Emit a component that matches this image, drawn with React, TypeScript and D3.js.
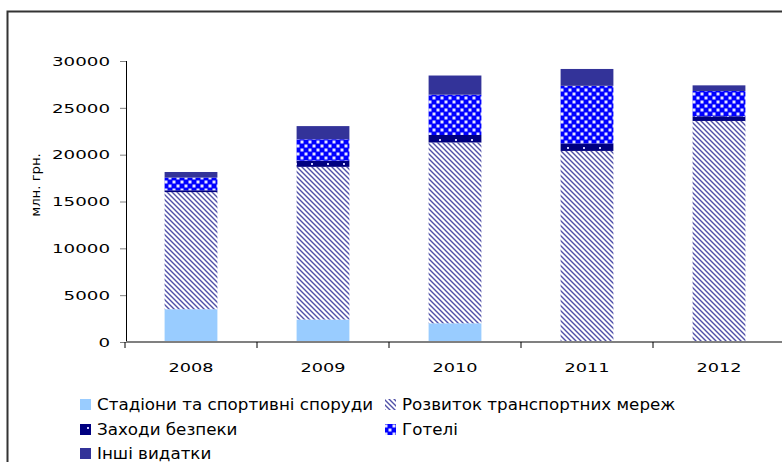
import React, { useLayoutEffect, useRef, useState } from "react";
import * as d3 from "d3";

const years = ["2008", "2009", "2010", "2011", "2012"];
const seriesNames = [
  "Стадіони та спортивні споруди",
  "Розвиток транспортних мереж",
  "Заходи безпеки",
  "Готелі",
  "Інші видатки",
];
const stadiums = [3500, 2400, 2000, 0, 0];
const transport = [12500, 16300, 19300, 20400, 23600];
const security = [200, 650, 800, 800, 500];
const hotels = [1350, 2300, 4300, 6150, 2700];
const other = [600, 1400, 2050, 1800, 600];
const yTicks = [0, 5000, 10000, 15000, 20000, 25000, 30000];

const W = 782;
const H = 462;
const FONT = "'DejaVu Sans', Verdana, sans-serif";

export default function App() {
  const tickRef = useRef<SVGTextElement>(null);
  const yearRef = useRef<SVGTextElement>(null);
  const legRef = useRef<SVGTextElement>(null);
  const [sc, setSc] = useState({ tick: 1.4, year: 1.3, leg: 1.1 });

  useLayoutEffect(() => {
    const t = tickRef.current ? tickRef.current.getComputedTextLength() : 0;
    const yr = yearRef.current ? yearRef.current.getComputedTextLength() : 0;
    const lg = legRef.current ? legRef.current.getComputedTextLength() : 0;
    if (t && yr && lg) {
      setSc({ tick: 58 / t, year: 45 / yr, leg: 276 / lg });
    }
  }, []);

  const x = d3.scaleBand<string>().domain(years).range([125, 785]).paddingInner(0.6).paddingOuter(0.3);
  const y = d3.scaleLinear().domain([0, 30000]).range([342, 61]);
  const rows = years.map((yr, i) => ({
    year: yr,
    s0: stadiums[i],
    s1: transport[i],
    s2: security[i],
    s3: hotels[i],
    s4: other[i],
  }));
  const keys = ["s0", "s1", "s2", "s3", "s4"];
  const stack = d3.stack<any>().keys(keys)(rows);
  const fills = ["#99CCFF", "url(#pTrans)", "url(#pSec)", "url(#pHot)", "#333399"];
  const step = x.step();
  const bw = x.bandwidth();

  const legend = [
    { i: 0, x: 80, y: 405 },
    { i: 1, x: 385, y: 405 },
    { i: 2, x: 80, y: 430 },
    { i: 3, x: 385, y: 430 },
    { i: 4, x: 80, y: 454 },
  ];

  return (
    <svg width={W} height={H} style={{ position: "absolute", left: 0, top: 0 }}>
      <defs>
        <pattern id="pTrans" patternUnits="userSpaceOnUse" width="5" height="5">
          <rect width="5" height="5" fill="#ffffff" />
          <path d="M0,0 L5,5 M-2.5,2.5 L2.5,7.5 M2.5,-2.5 L7.5,2.5" stroke="#5050a8" strokeWidth="1.4" />
        </pattern>
        <pattern id="pSec" patternUnits="userSpaceOnUse" width="16" height="8">
          <rect width="16" height="8" fill="#000080" />
          <rect x="7" y="3" width="2" height="2" fill="#ccccff" />
        </pattern>
        <pattern id="pHot" patternUnits="userSpaceOnUse" width="8" height="8">
          <rect width="8" height="8" fill="#0000FF" />
          <rect x="0.5" y="0.5" width="3" height="3" fill="#ffffff" opacity="0.9" />
          <rect x="4.5" y="4.5" width="3" height="3" fill="#ffffff" opacity="0.9" />
        </pattern>
      </defs>
      <rect width={W} height={H} fill="#ffffff" />
      <path d={`M7.5,${H} L7.5,11.5 L${W},11.5`} fill="none" stroke="#333333" strokeWidth="2" />

      {stack.map((layer, li) =>
        layer.map((d, di) => {
          const y0 = y(d[0]);
          const y1 = y(d[1]);
          if (y0 - y1 <= 0) return null;
          return (
            <rect
              key={`${li}-${di}`}
              x={x(years[di])}
              y={y1}
              width={bw}
              height={y0 - y1}
              fill={fills[li]}
            />
          );
        })
      )}

      {/* y axis */}
      <line x1={126.5} x2={126.5} y1={61} y2={342} stroke="#000000" strokeWidth="1" />
      {yTicks.map((t, i) => (
        <g key={t}>
          <line x1={120} x2={126} y1={y(t) + 0.5} y2={y(t) + 0.5} stroke="#808080" strokeWidth="1" />
          <g transform={`translate(110,${y(t)}) scale(${sc.tick},1)`}>
            <text
              ref={i === yTicks.length - 1 ? tickRef : undefined}
              x={0}
              y={0}
              dy="0.36em"
              textAnchor="end"
              fontFamily={FONT}
              fontSize="13"
              fill="#000000"
            >
              {t}
            </text>
          </g>
        </g>
      ))}
      {/* x axis */}
      <line x1={126} x2={W} y1={342} y2={342} stroke="#808080" strokeWidth="2" />
      {years.map((yr, i) => {
        const cx = (x(yr) as number) + bw / 2;
        return (
          <g key={yr}>
            <line
              x1={cx - step / 2}
              x2={cx - step / 2}
              y1={342}
              y2={348}
              stroke="#000000"
              strokeWidth="1"
            />
            <g transform={`translate(${cx},372) scale(${sc.year},1)`}>
              <text
                ref={i === 0 ? yearRef : undefined}
                x={0}
                y={0}
                textAnchor="middle"
                fontFamily={FONT}
                fontSize="13"
                fill="#000000"
              >
                {yr}
              </text>
            </g>
          </g>
        );
      })}
      <line
        x1={x(years[4])! + bw / 2 + step / 2}
        x2={x(years[4])! + bw / 2 + step / 2}
        y1={342}
        y2={348}
        stroke="#000"
      />

      <g transform="translate(40,185) rotate(-90) scale(1.15,1)">
        <text textAnchor="middle" fontFamily={FONT} fontSize="11.5" fill="#000000">
          млн. грн.
        </text>
      </g>

      {legend.map((l) => (
        <g key={l.i}>
          <rect x={l.x} y={l.y - 6} width={11} height={11} fill={fills[l.i]} />
          <g transform={`translate(${l.x + 17},${l.y}) scale(${sc.leg},1)`}>
            <text
              ref={l.i === 0 ? legRef : undefined}
              x={0}
              y={0}
              dy="0.36em"
              fontFamily={FONT}
              fontSize="15"
              fill="#000000"
            >
              {seriesNames[l.i]}
            </text>
          </g>
        </g>
      ))}
    </svg>
  );
}
